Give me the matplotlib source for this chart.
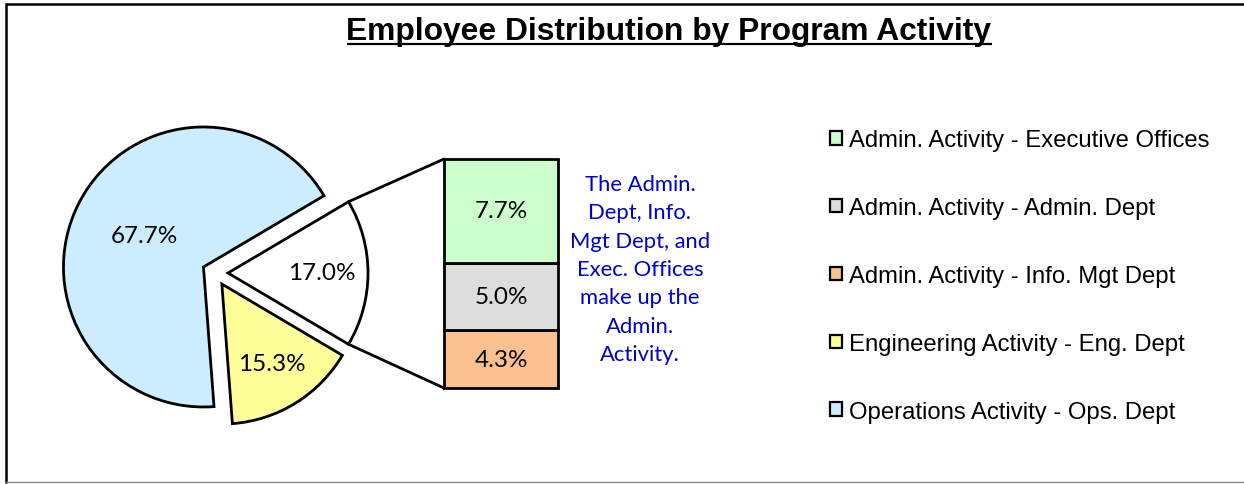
import matplotlib
matplotlib.use("Agg")
import matplotlib.pyplot as plt
from matplotlib.patches import Patch, ConnectionPatch
import numpy as np

# ---- data ----
title = "Employee Distribution by Program Activity"
pie_labels = ["Admin. Activity (combined)", "Engineering Activity - Eng. Dept",
              "Operations Activity - Ops. Dept"]
pie_values = [17.0, 15.3, 67.7]
pie_colors = ["#FFFFFF", "#FFFF99", "#CCECFF"]

bar_labels = ["Admin. Activity - Info. Mgt Dept", "Admin. Activity - Admin. Dept",
              "Admin. Activity - Executive Offices"]
bar_values = [4.3, 5.0, 7.7]          # bottom to top
bar_colors = ["#FAC090", "#DDDDDD", "#CCFFCC"]

legend_labels = ["Admin. Activity - Executive Offices",
                 "Admin. Activity - Admin. Dept",
                 "Admin. Activity - Info. Mgt Dept",
                 "Engineering Activity - Eng. Dept",
                 "Operations Activity - Ops. Dept"]
legend_colors = ["#CCFFCC", "#DDDDDD", "#FAC090", "#FFFF99", "#CCECFF"]

note = "The Admin.\nDept, Info.\nMgt Dept, and\nExec. Offices\nmake up the\nAdmin.\nActivity."

W, H = 1244, 485
DPI = 100
fig = plt.figure(figsize=(W / DPI, H / DPI), dpi=DPI)
ax = fig.add_axes([0, 0, 1, 1])
LW = 2.0
LBL_FS = 17.5

# ---- pie ----
cx, cy, R = 215, H - 274, 140
start = pie_values[0] / sum(pie_values) * 360 / 2
wedges, texts, autotexts = ax.pie(
    pie_values, colors=pie_colors, startangle=start, counterclock=False,
    center=(cx, cy), radius=R, explode=[13, 13, 13],
    autopct="%1.1f%%", pctdistance=0.67,
    wedgeprops=dict(edgecolor="black", linewidth=LW, joinstyle="miter"),
    textprops=dict(fontsize=LBL_FS, family="Lato", color="#000000"))
ax.set_xlim(0, W)
ax.set_ylim(0, H)
ax.set_aspect("auto")
ax.axis("off")

# move big slice label closer to its centre
wb = wedges[2]
mid = np.deg2rad((wb.theta1 + wb.theta2) / 2)
autotexts[2].set_position((wb.center[0] + 0.48 * R * np.cos(mid),
                           wb.center[1] + 0.48 * R * np.sin(mid)))

# ---- bar of pie ----
axb = fig.add_axes([444 / W, 96 / H, 114 / W, 229 / H])
axb.set_xlim(-0.5, 0.5)
axb.set_ylim(0, sum(bar_values))
axb.axis("off")
bottom = 0
for v, c in zip(bar_values, bar_colors):
    bars = axb.bar(0, v, width=1, bottom=bottom, color=c, edgecolor="black",
                   linewidth=LW, clip_on=False)
    axb.bar_label(bars, labels=[f"{v:.1f}%"], label_type="center",
                  fontsize=LBL_FS, family="Lato", color="#000000")
    bottom += v

# connector lines
ww = wedges[0]
for ang, yb in ((ww.theta2, sum(bar_values)), (ww.theta1, 0)):
    a = np.deg2rad(ang)
    pa = (ww.center[0] + R * np.cos(a), ww.center[1] + R * np.sin(a))
    con = ConnectionPatch(xyA=pa, coordsA=ax.transData, xyB=(-0.5, yb),
                          coordsB=axb.transData, color="black", linewidth=LW)
    fig.add_artist(con)

# ---- note ----
ax.text(640, H - 270, note, ha="center", va="center", color="#0000CC",
        fontsize=15.8, family="Lato", linespacing=1.53)

# ---- legend ----
handles = [Patch(facecolor=c, edgecolor="black", linewidth=1.6) for c in legend_colors]
fig.legend(handles, legend_labels, loc="center left",
           bbox_to_anchor=(830 / W, (H - 277) / H), frameon=False,
           prop=dict(family="Liberation Sans", size=17.2),
           handlelength=0.5, handleheight=0.5, handletextpad=0.3,
           labelspacing=1.92, borderpad=0, borderaxespad=0)

# ---- title with underline ----
t = ax.text(669, H - 40, title, ha="center", va="baseline", fontsize=22.9,
            fontweight="bold", family="Liberation Sans")
fig.canvas.draw()
bb = t.get_window_extent(fig.canvas.get_renderer())
ax.plot([bb.x0, bb.x1], [H - 44.5, H - 44.5], color="black", linewidth=1.6,
        solid_capstyle="butt")

# ---- frame ----
ax.plot([6, 6, W + 5], [H - 483, H - 5, H - 5], color="black", linewidth=1.8,
        solid_joinstyle="miter", clip_on=False)
ax.plot([6, W], [H - 483, H - 483], color="#888888", linewidth=1)

fig.savefig("out.png", dpi=DPI)
